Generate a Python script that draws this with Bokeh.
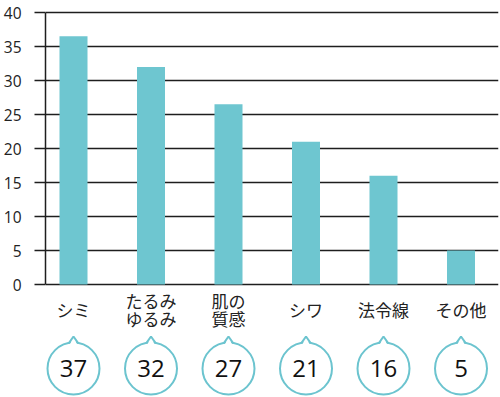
from bokeh.plotting import figure
from bokeh.models import Range1d, FixedTicker, ColumnDataSource
from bokeh.core.properties import value
from bokeh.embed import file_html
from bokeh.resources import INLINE

# ---- data ----
categories = ["シミ", "たるみ\nゆるみ", "肌の\n質感", "シワ", "法令線", "その他"]
bar_values = [36.5, 32, 26.5, 21, 16, 5]
counts = [37, 32, 27, 21, 16, 5]
y_ticks = [0, 5, 10, 15, 20, 25, 30, 35, 40]

# ---- styling / layout constants ----
TEAL = "#6EC6D0"
RING = "#6CC4CF"
DARK = "#1e1e1e"
W, H = 500, 397
LEFT = 45
RIGHT = 2
PX_X = 77.5      # pixels per category step
PX_Y = 6.8       # pixels per value unit
ZERO_PX = 284    # pixel row of value 0 (from top of figure)
FIRST_PX = 28    # first bar center from frame left

frame_w = W - LEFT - RIGHT
x0 = -FIRST_PX / PX_X
x1 = (frame_w - FIRST_PX) / PX_X
y_top = ZERO_PX / PX_Y
y_bot = -(H - ZERO_PX) / PX_Y

p = figure(width=W, height=H, output_backend="svg", toolbar_location=None,
           x_range=Range1d(x0, x1), y_range=Range1d(y_bot, y_top),
           x_axis_location=None, min_border_left=LEFT, min_border_right=RIGHT,
           min_border_top=0, min_border_bottom=0)
p.outline_line_color = None
p.background_fill_color = "white"
p.border_fill_color = "white"
p.xgrid.visible = False

ax = p.yaxis[0]
ax.ticker = FixedTicker(ticks=y_ticks)
ax.bounds = (min(y_ticks), max(y_ticks))
ax.axis_line_color = DARK
ax.axis_line_width = 1.5
ax.major_tick_out = 11
ax.major_tick_in = 0
ax.major_tick_line_color = DARK
ax.major_tick_line_width = 1.5
ax.minor_tick_line_color = None
ax.major_label_standoff = 13
ax.major_label_text_font = "Open Sans"
ax.major_label_text_font_size = "15.5px"
ax.major_label_text_color = "#222222"

p.ygrid.grid_line_color = DARK
p.ygrid.grid_line_width = 1.5
p.ygrid.grid_line_alpha = 1.0

xs = list(range(len(categories)))
src = ColumnDataSource(dict(x=xs, v=bar_values, n=[str(c) for c in counts]))

p.vbar(x="x", top="v", bottom=0, width=28 / PX_X, source=src,
       fill_color=TEAL, line_color=None)

# category labels (one or two lines, block centred on the same row)
LABEL_PX = 309
LINE_PX = 18.5
lx_, ly_, lt_ = [], [], []
for x, cat in zip(xs, categories):
    lines = cat.split("\n")
    k = len(lines)
    for j, s in enumerate(lines):
        off = (j - (k - 1) / 2) * LINE_PX
        lx_.append(x)
        ly_.append((ZERO_PX - (LABEL_PX + off)) / PX_Y)
        lt_.append(s)
p.text(x=lx_, y=ly_, text=lt_, text_align="center",
       text_baseline="middle", text_font=value("Noto Sans CJK JP"),
       text_font_size="17px", text_color="#222222")

# bubbles
cy = (ZERO_PX - 368) / PX_Y
R = 26
p.scatter(x="x", y=cy, source=src, marker="circle", size=2 * R,
          fill_color="white", line_color=RING, line_width=2)

top = cy + R / PX_Y
dx = lambda px: px / PX_X
dy = lambda px: px / PX_Y
wx, wy, mx, my = [], [], [], []
for x in xs:
    wx.append([x - dx(3.5), x, x + dx(3.5)])
    wy.append([top - dy(1.6), top + dy(5), top - dy(1.6)])
    mx.append([x - dx(4.5), x, x + dx(4.5)])
    my.append([top - dy(0.4), top + dy(6), top - dy(0.4)])
p.patches(wx, wy, fill_color="white", line_color=None)
p.multi_line(mx, my, line_color=RING, line_width=2)

p.text(x="x", y=cy, text="n", source=src, text_align="center",
       text_baseline="middle", text_font=value("Open Sans"),
       text_font_size="24px", text_color="#111111")

open("out.html", "w").write(file_html(p, INLINE))
